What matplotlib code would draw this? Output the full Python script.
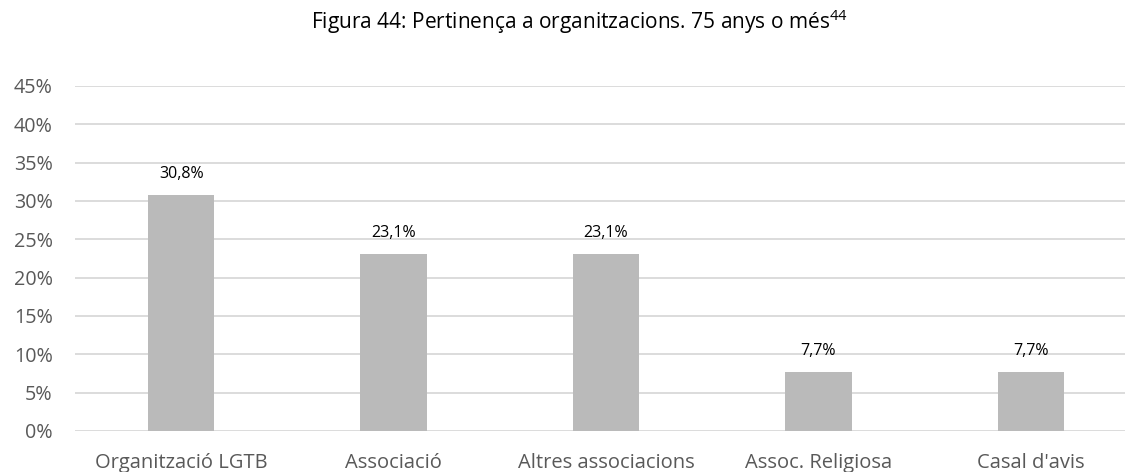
import matplotlib.pyplot as plt
from matplotlib.ticker import MultipleLocator, FuncFormatter

plt.rcParams['font.family'] = ['Open Sans', 'DejaVu Sans']
plt.rcParams['mathtext.fontset'] = 'custom'
plt.rcParams['mathtext.rm'] = 'Open Sans'

# dades
categories = ["Organització LGTB", "Associació", "Altres associacions",
              "Assoc. Religiosa", "Casal d'avis"]
valors = [30.8, 23.1, 23.1, 7.7, 7.7]
etiquetes = ["30,8%", "23,1%", "23,1%", "7,7%", "7,7%"]

fig = plt.figure(figsize=(11.25, 4.72), dpi=100)
# l'àrea del gràfic continua una mica més enllà de la vora dreta
ax = fig.add_axes([0.0667, 0.0869, 0.944, 0.731])

x = range(len(categories))
barres = ax.bar(x, valors, width=0.313, color="#BABABA", zorder=3)

for b, t in zip(barres, etiquetes):
    ax.annotate(t, (b.get_x() + b.get_width() / 2, b.get_height()),
                xytext=(0, 9), textcoords="offset points",
                ha="center", va="bottom", fontsize=11.5, color="#000000")

ax.set_xlim(-0.5, len(categories) - 0.5)
ax.set_ylim(0, 45)
ax.yaxis.set_major_locator(MultipleLocator(5))
ax.yaxis.set_major_formatter(FuncFormatter(lambda v, p: f"{v:.0f}%"))
ax.set_xticks(list(x))
ax.set_xticklabels(categories)
ax.tick_params(axis="both", length=0, colors="#595959")
ax.tick_params(axis="x", labelsize=14.5, pad=16)
ax.tick_params(axis="y", labelsize=14.2, pad=16)

ax.grid(axis="y", color="#D9D9D9", linewidth=1.3, zorder=0)
for s in ax.spines.values():
    s.set_visible(False)

fig.text(0.515, 0.953, "Figura 44: Pertinença a organitzacions. 75 anys o més$^{44}$",
         ha="center", va="center", fontsize=15, color="#000000")

fig.savefig("out.png", dpi=100)
